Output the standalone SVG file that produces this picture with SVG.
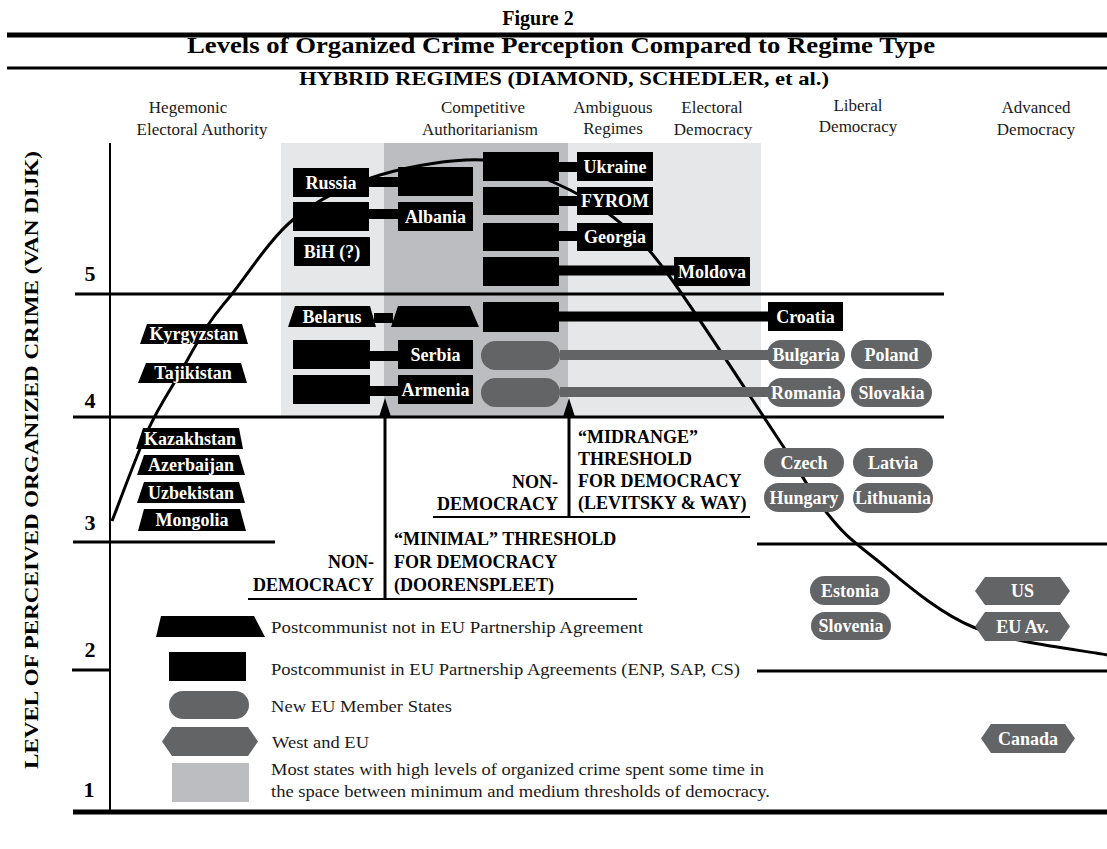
<svg xmlns="http://www.w3.org/2000/svg" width="1107" height="849" viewBox="0 0 1107 849">
<style>
text{font-family:"Liberation Serif","Times New Roman",serif;fill:#1a1a1a}
.bt{font-weight:bold;fill:#000}
.w{fill:#fff;font-weight:bold;font-size:18px;text-anchor:middle}
.blk{fill:#000}
.g{fill:#636466}
.hdr{font-size:17px;text-anchor:middle}
.lg{font-size:17.5px}
.ln{stroke:#000;stroke-width:3;fill:none}
.bar{stroke:#000;stroke-width:10}
.gbar{stroke:#636466;stroke-width:10}
.thr{font-size:18px;font-weight:bold;fill:#000}
.num{font-size:22px;font-weight:bold;fill:#000;text-anchor:middle}
</style>
<defs>
<marker id="arr" viewBox="0 0 19 12" refX="12" refY="6" markerWidth="19" markerHeight="12" markerUnits="userSpaceOnUse" orient="auto">
<path d="M0,0 L19,6 L0,12 z" fill="#000"/>
</marker>
</defs>
<rect width="1107" height="849" fill="#fff"/>
<g id="titles">
<text x="538" y="25" class="bt" font-size="20" text-anchor="middle">Figure 2</text>
<line x1="7" y1="35" x2="1107" y2="35" stroke="#000" stroke-width="5"/>
<text x="561" y="53" class="bt" font-size="23" text-anchor="middle" textLength="748" lengthAdjust="spacingAndGlyphs">Levels of Organized Crime Perception Compared to Regime Type</text>
<line x1="7" y1="68" x2="1107" y2="68" stroke="#000" stroke-width="3"/>
<text x="564" y="85" class="bt" font-size="19" text-anchor="middle" textLength="530" lengthAdjust="spacingAndGlyphs">HYBRID REGIMES (DIAMOND, SCHEDLER, et al.)</text>
</g>
<g id="column-labels">
<text x="188" y="113" class="hdr">Hegemonic</text>
<text x="202" y="135" class="hdr">Electoral Authority</text>
<text x="483" y="113" class="hdr">Competitive</text>
<text x="480" y="135" class="hdr">Authoritarianism</text>
<text x="613" y="113" class="hdr">Ambiguous</text>
<text x="613" y="134" class="hdr">Regimes</text>
<text x="712" y="113" class="hdr">Electoral</text>
<text x="713" y="135" class="hdr">Democracy</text>
<text x="858" y="111" class="hdr">Liberal</text>
<text x="858" y="132" class="hdr">Democracy</text>
<text x="1036" y="113" class="hdr">Advanced</text>
<text x="1036" y="135" class="hdr">Democracy</text>
</g>
<g id="zones">
<rect x="281" y="143" width="480" height="274" fill="#e6e7e8"/>
<rect x="384" y="143" width="184" height="274" fill="#bcbdc0"/>
</g>
<g id="axes">
<line x1="110" y1="143" x2="110" y2="812" stroke="#000" stroke-width="2"/>
<line class="ln" x1="75" y1="294" x2="944" y2="294"/>
<line class="ln" x1="73" y1="417" x2="944" y2="417"/>
<line class="ln" x1="73" y1="542" x2="275" y2="542"/>
<line class="ln" x1="757" y1="544" x2="1107" y2="544"/>
<line class="ln" x1="72" y1="670" x2="110" y2="670"/>
<line class="ln" x1="757" y1="671" x2="1107" y2="671"/>
<line x1="73" y1="812" x2="1107" y2="812" stroke="#000" stroke-width="5"/>
<text class="num" x="90" y="281">5</text>
<text class="num" x="90" y="408">4</text>
<text class="num" x="90" y="530">3</text>
<text class="num" x="90" y="657">2</text>
<text class="num" x="89" y="797">1</text>
<text transform="translate(38,460) rotate(-90)" class="bt" font-size="19" text-anchor="middle" textLength="618" lengthAdjust="spacingAndGlyphs">LEVEL OF PERCEIVED ORGANIZED CRIME (VAN DIJK)</text>
</g>
<g id="curve">
<path class="ln" d="M112,521 C118,506 136.7,454.7 148,430 C159.3,405.3 170,390.5 180,373 C190,355.5 199.3,338.2 208,325 C216.7,311.8 217.5,311.8 232,294 C246.5,276.2 270.3,237.8 295,218 C319.7,198.2 348.7,184.7 380,175 C411.3,165.3 454.2,158.8 483,160 C511.8,161.2 531.3,172.5 553,182 C574.7,191.5 594,201.8 613,217 C632,232.2 639.7,236.3 667,273 C694.3,309.7 750.3,397 777,437 C803.7,477 811,493 827,513 C843,533 848.7,538 873,557 C897.3,576 934,610.7 973,627 C1012,643.3 1084.7,650.3 1107,655"/>
</g>
<g id="thresholds">
<line x1="385" y1="599" x2="385" y2="405" stroke="#000" stroke-width="3" marker-end="url(#arr)"/>
<line x1="248" y1="599" x2="637" y2="599" stroke="#000" stroke-width="2"/>
<text class="thr" x="374" y="568" text-anchor="end">NON-</text>
<text class="thr" x="374" y="591" text-anchor="end">DEMOCRACY</text>
<text class="thr" x="394" y="545">“MINIMAL” THRESHOLD</text>
<text class="thr" x="394" y="568">FOR DEMOCRACY</text>
<text class="thr" x="394" y="591">(DOORENSPLEET)</text>
<line x1="569" y1="517" x2="569" y2="405" stroke="#000" stroke-width="3" marker-end="url(#arr)"/>
<line x1="433" y1="517" x2="750" y2="517" stroke="#000" stroke-width="2"/>
<text class="thr" x="558" y="488" text-anchor="end">NON-</text>
<text class="thr" x="558" y="510" text-anchor="end">DEMOCRACY</text>
<text class="thr" x="578" y="443">“MIDRANGE”</text>
<text class="thr" x="578" y="465">THRESHOLD</text>
<text class="thr" x="578" y="487">FOR DEMOCRACY</text>
<text class="thr" x="578" y="509">(LEVITSKY &amp; WAY)</text>
</g>
<g id="connectors">
<line class="bar" x1="369" y1="182" x2="398" y2="182"/>
<line class="bar" x1="369" y1="214" x2="398" y2="214"/>
<line class="bar" x1="559" y1="167" x2="577" y2="167"/>
<line class="bar" x1="559" y1="201" x2="577" y2="201"/>
<line class="bar" x1="559" y1="236" x2="577" y2="236"/>
<line class="bar" x1="559" y1="270.5" x2="674" y2="270.5" stroke-width="11"/>
<line class="bar" x1="559" y1="316.5" x2="768" y2="316.5" stroke-width="11"/>
<line class="bar" x1="374" y1="318" x2="393" y2="318" stroke-width="9"/>
<line class="bar" x1="370" y1="356" x2="398" y2="356"/>
<line class="bar" x1="370" y1="391" x2="398" y2="391"/>
<line class="gbar" x1="560" y1="355" x2="768" y2="355"/>
<line class="gbar" x1="560" y1="392" x2="768" y2="392"/>
</g>
<g id="n-russia"><rect class="blk" x="293" y="168" width="76" height="29"/><text class="w" x="331" y="188.5">Russia</text></g>
<g id="n-russia-2"><rect class="blk" x="398" y="167" width="75" height="29"/></g>
<g id="n-albania-1"><rect class="blk" x="293" y="202" width="76" height="29"/></g>
<g id="n-albania"><rect class="blk" x="398" y="202" width="75" height="29"/><text class="w" x="435.5" y="222.5">Albania</text></g>
<g id="n-bih"><rect class="blk" x="294" y="237" width="76" height="29"/><text class="w" x="332" y="257.5">BiH (?)</text></g>
<g id="n-ukraine-1"><rect class="blk" x="483" y="152" width="76" height="29"/></g>
<g id="n-ukraine"><rect class="blk" x="577" y="152" width="76" height="29"/><text class="w" x="615" y="172.5">Ukraine</text></g>
<g id="n-fyrom-1"><rect class="blk" x="483" y="187" width="76" height="28"/></g>
<g id="n-fyrom"><rect class="blk" x="577" y="187" width="76" height="28"/><text class="w" x="615" y="207">FYROM</text></g>
<g id="n-georgia-1"><rect class="blk" x="483" y="223" width="76" height="28"/></g>
<g id="n-georgia"><rect class="blk" x="577" y="223" width="76" height="28"/><text class="w" x="615" y="243">Georgia</text></g>
<g id="n-moldova-1"><rect class="blk" x="483" y="257" width="76" height="29"/></g>
<g id="n-moldova"><rect class="blk" x="674" y="257" width="76" height="29"/><text class="w" x="712" y="277.5">Moldova</text></g>
<g id="n-belarus"><polygon class="blk" points="295,306 370,306 376,327 288,327"/><text class="w" x="332" y="322.5">Belarus</text></g>
<g id="n-belarus-2"><polygon class="blk" points="398,306 470,306 479,327 391,327"/></g>
<g id="n-croatia-1"><rect class="blk" x="483" y="302" width="76" height="30"/></g>
<g id="n-croatia"><rect class="blk" x="768" y="302" width="75" height="29"/><text class="w" x="805.5" y="322.5">Croatia</text></g>
<g id="n-serbia-1"><rect class="blk" x="293" y="340" width="77" height="29"/></g>
<g id="n-serbia"><rect class="blk" x="398" y="340" width="75" height="29"/><text class="w" x="435.5" y="360.5">Serbia</text></g>
<g id="n-armenia-1"><rect class="blk" x="293" y="375" width="77" height="29"/></g>
<g id="n-armenia"><rect class="blk" x="398" y="375" width="75" height="29"/><text class="w" x="435.5" y="395.5">Armenia</text></g>
<g id="n-bulgaria-1"><rect class="g" x="481" y="341" width="79" height="29" rx="14.5"/></g>
<g id="n-romania-1"><rect class="g" x="481" y="378" width="79" height="29" rx="14.5"/></g>
<g id="n-bulgaria"><rect class="g" x="767" y="340" width="78" height="29" rx="14.5"/><text class="w" x="806" y="360.5">Bulgaria</text></g>
<g id="n-poland"><rect class="g" x="851" y="340" width="81" height="29" rx="14.5"/><text class="w" x="891.5" y="360.5">Poland</text></g>
<g id="n-romania"><rect class="g" x="767" y="378" width="78" height="29" rx="14.5"/><text class="w" x="806" y="398.5">Romania</text></g>
<g id="n-slovakia"><rect class="g" x="851" y="378" width="81" height="29" rx="14.5"/><text class="w" x="891.5" y="398.5">Slovakia</text></g>
<g id="n-kyrgyzstan"><polygon class="blk" points="147,324 242,324 248,344 140,344"/><text class="w" x="194" y="340">Kyrgyzstan</text></g>
<g id="n-tajikistan"><polygon class="blk" points="146,363 241,363 247,383 138,383"/><text class="w" x="193" y="379">Tajikistan</text></g>
<g id="n-kazakhstan"><polygon class="blk" points="143,428 239,428 243,449 136,449"/><text class="w" x="190" y="444.5">Kazakhstan</text></g>
<g id="n-azerbaijan"><polygon class="blk" points="144,455 239,455 245,475 137,475"/><text class="w" x="191" y="471">Azerbaijan</text></g>
<g id="n-uzbekistan"><polygon class="blk" points="144,482 239,482 245,503 137,503"/><text class="w" x="191" y="498.5">Uzbekistan</text></g>
<g id="n-mongolia"><polygon class="blk" points="144,509 240,509 246,531 138,531"/><text class="w" x="192" y="526">Mongolia</text></g>
<g id="n-czech"><rect class="g" x="764" y="448" width="80" height="29" rx="14.5"/><text class="w" x="804" y="468.5">Czech</text></g>
<g id="n-latvia"><rect class="g" x="853" y="448" width="80" height="29" rx="14.5"/><text class="w" x="893" y="468.5">Latvia</text></g>
<g id="n-hungary"><rect class="g" x="764" y="483" width="80" height="29" rx="14.5"/><text class="w" x="804" y="503.5">Hungary</text></g>
<g id="n-lithuania"><rect class="g" x="853" y="483" width="80" height="30" rx="15"/><text class="w" x="893" y="504">Lithuania</text></g>
<g id="n-estonia"><rect class="g" x="810" y="576" width="80" height="29" rx="14.5"/><text class="w" x="850" y="596.5">Estonia</text></g>
<g id="n-slovenia"><rect class="g" x="811" y="612" width="80" height="28" rx="14"/><text class="w" x="851" y="632">Slovenia</text></g>
<g id="n-us"><polygon class="g" points="975,591 985,577 1060,577 1070,591 1060,605 985,605"/><text class="w" x="1022.5" y="597">US</text></g>
<g id="n-euav"><polygon class="g" points="975,626.5 985,612 1060,612 1070,626.5 1060,641 985,641"/><text class="w" x="1022.5" y="632.5">EU Av.</text></g>
<g id="n-canada"><polygon class="g" points="981,738.5 991,724 1065,724 1075,738.5 1065,753 991,753"/><text class="w" x="1028" y="744.5">Canada</text></g>
<g id="legend">
<polygon class="blk" points="161,616 254,616 265,637 156,637"/>
<text class="lg" x="271" y="633" textLength="372" lengthAdjust="spacingAndGlyphs">Postcommunist not in EU Partnership Agreement</text>
<rect class="blk" x="169" y="652" width="77" height="29"/>
<text class="lg" x="271" y="675" textLength="469" lengthAdjust="spacingAndGlyphs">Postcommunist in EU Partnership Agreements (ENP, SAP, CS)</text>
<rect class="g" x="169" y="691" width="80" height="28" rx="14"/>
<text class="lg" x="271" y="712" textLength="181" lengthAdjust="spacingAndGlyphs">New EU Member States</text>
<polygon class="g" points="162,741.5 172,727 248,727 258,741.5 248,756 172,756"/>
<text class="lg" x="272" y="748" textLength="97" lengthAdjust="spacingAndGlyphs">West and EU</text>
<rect x="172" y="763" width="77" height="39" fill="#bcbdc0"/>
<text class="lg" x="271" y="775" textLength="493" lengthAdjust="spacingAndGlyphs">Most states with high levels of organized crime spent some time in</text>
<text class="lg" x="271" y="797" textLength="499" lengthAdjust="spacingAndGlyphs">the space between minimum and medium thresholds of democracy.</text>
</g>
</svg>
